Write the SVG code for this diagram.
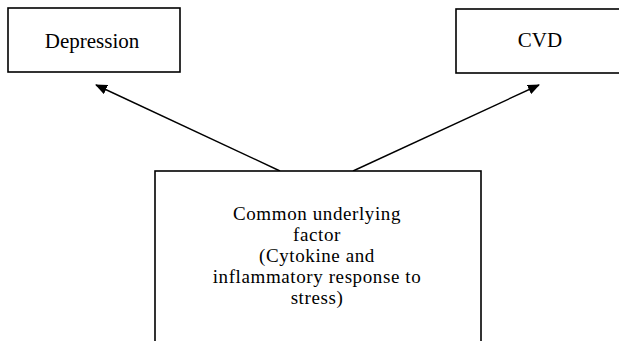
<svg xmlns="http://www.w3.org/2000/svg" width="619" height="341" viewBox="0 0 619 341">
<style>
.box{fill:#fff;stroke:#000;stroke-width:1.6}
.lbl{font-family:"Liberation Serif","Times New Roman",serif;font-size:21px;fill:#000;text-anchor:middle}
.sm{font-size:19px;letter-spacing:0.6px}
.edge{stroke:#000;stroke-width:1.4;fill:none}
</style>
<defs>
<marker id="ah" viewBox="0 0 12 10" refX="11" refY="5" markerWidth="12" markerHeight="10" markerUnits="userSpaceOnUse" orient="auto">
<path d="M0,0 L12,5 L0,10 Z" fill="#000"/>
</marker>
</defs>
<rect width="619" height="341" fill="#fff"/>
<g id="connectors">
<line class="edge" x1="280" y1="171" x2="96" y2="85" marker-end="url(#ah)"/>
<line class="edge" x1="353" y1="171" x2="539" y2="85" marker-end="url(#ah)"/>
</g>
<g id="depression">
<rect class="box" x="8" y="8" width="172" height="64"/>
<text class="lbl" x="92" y="48">Depression</text>
</g>
<g id="cvd">
<rect class="box" x="456" y="9" width="180" height="64"/>
<text class="lbl" x="540" y="47">CVD</text>
</g>
<g id="factor">
<rect class="box" x="155" y="171" width="326" height="190"/>
<text class="lbl sm" x="317" y="220">Common underlying</text>
<text class="lbl sm" x="317" y="241">factor</text>
<text class="lbl sm" x="317" y="262">(Cytokine and</text>
<text class="lbl sm" x="317" y="283">inflammatory response to</text>
<text class="lbl sm" x="317" y="304">stress)</text>
</g>
</svg>
